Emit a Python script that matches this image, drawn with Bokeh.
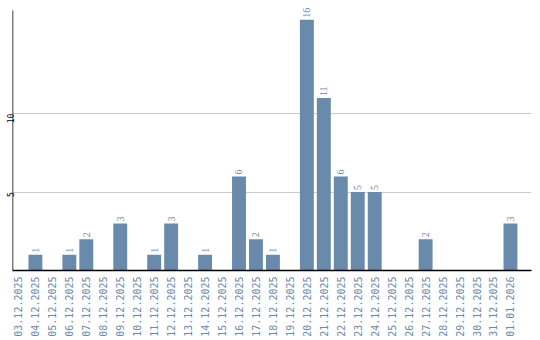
import numpy as np
from bokeh.plotting import figure
from bokeh.models import ColumnDataSource, FixedTicker, Range1d, LabelSet
from bokeh.embed import file_html
from bokeh.resources import INLINE

dates = ["03.12.2025", "04.12.2025", "05.12.2025", "06.12.2025", "07.12.2025",
         "08.12.2025", "09.12.2025", "10.12.2025", "11.12.2025", "12.12.2025",
         "13.12.2025", "14.12.2025", "15.12.2025", "16.12.2025", "17.12.2025",
         "18.12.2025", "19.12.2025", "20.12.2025", "21.12.2025", "22.12.2025",
         "23.12.2025", "24.12.2025", "25.12.2025", "26.12.2025", "27.12.2025",
         "28.12.2025", "29.12.2025", "30.12.2025", "31.12.2025", "01.01.2026"]
counts = [0, 1, 0, 1, 2, 0, 3, 0, 1, 3, 0, 1, 0, 6, 2, 1, 0, 16, 11, 6, 5, 5,
          0, 0, 2, 0, 0, 0, 0, 3]
y_ticks = [5, 10]
y_axis_top = 16.58   # visible end of the value axis
y_view_top = 17.03   # room above the axis for the top label

BAR = "#6a8aab"
FONT = "DejaVu Sans Mono"

idx = list(range(len(dates)))
src = ColumnDataSource(dict(x=idx, top=counts))
nz = [i for i, c in enumerate(counts) if c > 0]
lab = ColumnDataSource(dict(x=nz, y=[counts[i] for i in nz],
                            t=[str(counts[i]) for i in nz]))

x_start, x_end = -0.35, 30.24
p = figure(width=540, height=340, output_backend="svg", toolbar_location=None,
           x_range=Range1d(x_start, x_end), y_range=Range1d(0, y_view_top),
           min_border_left=11, min_border_right=9, min_border_top=3,
           min_border_bottom=70)
p.outline_line_color = None
p.background_fill_color = "white"

p.xgrid.grid_line_color = None
p.ygrid.ticker = FixedTicker(ticks=y_ticks)
p.ygrid.grid_line_color = "#cccccc"
p.ygrid.grid_line_width = 1

p.vbar(x="x", top="top", width=0.82, source=src, color=BAR, line_color=None)
labels = LabelSet(x="x", y="y", text="t", source=lab, angle=np.pi / 2,
                  text_align="left", text_baseline="middle", y_offset=2,
                  text_font=FONT, text_font_size="10px", text_color=BAR)
p.add_layout(labels)

# value-axis line drawn only up to the axis top
p.segment(x0=[x_start], y0=[0], x1=[x_start], y1=[y_axis_top],
          line_color="black", line_width=1.5)

p.xaxis.ticker = FixedTicker(ticks=idx)
p.xaxis.major_label_overrides = {i: d for i, d in enumerate(dates)}
p.xaxis.major_label_orientation = np.pi / 2
p.xaxis.major_label_text_font = FONT
p.xaxis.major_label_text_font_size = "10px"
p.xaxis.major_label_text_color = BAR
p.xaxis.major_tick_line_color = None
p.xaxis.minor_tick_line_color = None
p.xaxis.major_tick_out = 0
p.xaxis.major_tick_in = 0
p.xaxis.minor_tick_out = 0
p.xaxis.major_label_standoff = 6
p.xaxis.axis_line_color = "black"
p.xaxis.axis_line_width = 1.5

p.yaxis.ticker = FixedTicker(ticks=y_ticks)
p.yaxis.major_label_orientation = np.pi / 2
p.yaxis.major_label_text_font = FONT
p.yaxis.major_label_text_font_size = "8px"
p.yaxis.major_label_text_color = "black"
p.yaxis.major_tick_line_color = None
p.yaxis.minor_tick_line_color = None
p.yaxis.major_tick_out = 0
p.yaxis.major_tick_in = 0
p.yaxis.minor_tick_out = 0
p.yaxis.major_label_standoff = 2
p.yaxis.axis_line_color = None

open("out.html", "w").write(file_html(p, INLINE))
